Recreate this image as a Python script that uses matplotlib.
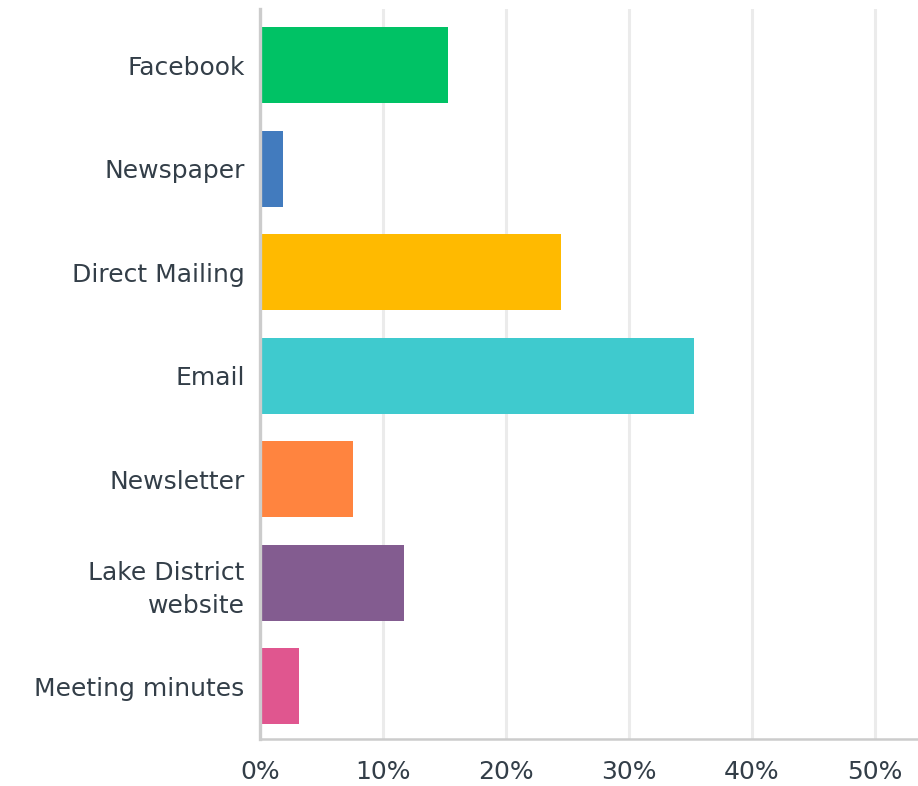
import numpy as np
import matplotlib
matplotlib.use("Agg")
import matplotlib.pyplot as plt
from matplotlib.ticker import FuncFormatter

categories = ["Facebook", "Newspaper", "Direct Mailing", "Email",
              "Newsletter", "Lake District\nwebsite", "Meeting minutes"]
values = [15.25, 1.9, 24.45, 35.3, 7.6, 11.7, 3.2]
colors = ["#00c265", "#427bbe", "#ffba00", "#3fcace",
          "#ff843f", "#835c90", "#e0568f"]
ticks = [0, 10, 20, 30, 40, 50]

fig = plt.figure(figsize=(9.18, 7.86), dpi=100)
ax = fig.add_axes([260 / 918, 47 / 786, 658 / 918, 730 / 786])

y = np.arange(len(categories))
ax.barh(y, values, height=0.735, color=colors, zorder=3)

ax.set_ylim(len(categories) - 0.49, -0.545)
ax.set_xlim(0, 53.5)
ax.set_yticks(y)
ax.set_yticklabels(categories, fontsize=18, family="DejaVu Sans",
                   color="#333e48", linespacing=1.45)
ax.set_xticks(ticks)
ax.xaxis.set_major_formatter(FuncFormatter(lambda v, p: f"{v:.0f}%"))
for lab in ax.get_xticklabels():
    lab.set_fontsize(18)
    lab.set_family("DejaVu Sans")
    lab.set_color("#333e48")

ax.tick_params(axis="y", length=0, pad=11)
ax.tick_params(axis="x", length=0, pad=15)

for t in ticks[1:]:
    ax.axvline(t, color="#ebebeb", lw=2.2, zorder=1)

for s in ["top", "right"]:
    ax.spines[s].set_visible(False)
ax.spines["left"].set_color("#cccccc")
ax.spines["left"].set_linewidth(2.4)
ax.spines["bottom"].set_color("#cccccc")
ax.spines["bottom"].set_linewidth(1.8)
ax.spines["left"].set_zorder(4)

fig.savefig("out.png", dpi=100)
